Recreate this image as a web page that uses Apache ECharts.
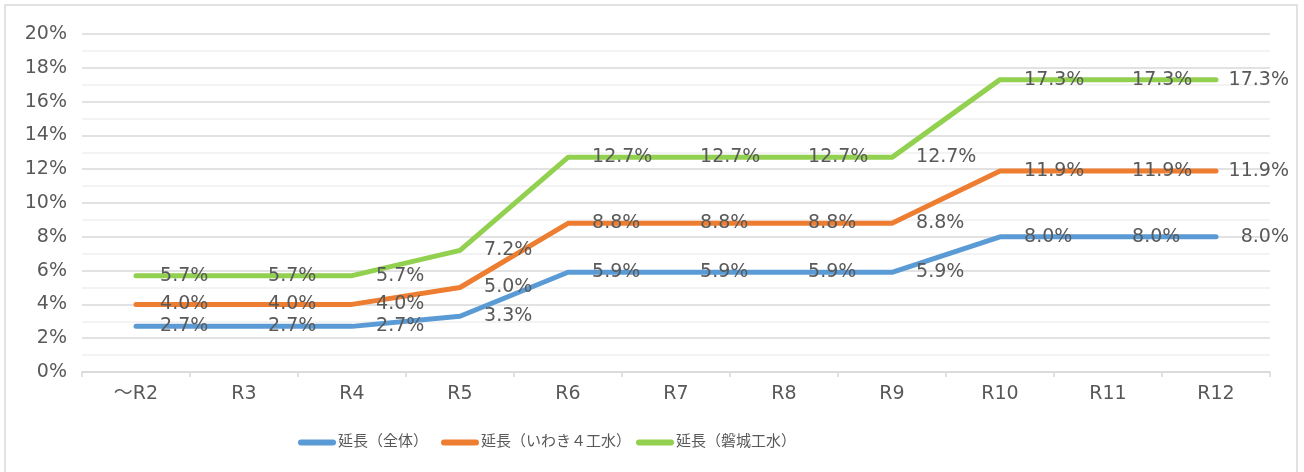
<!DOCTYPE html>
<html>
<head>
<meta charset="utf-8">
<script src="https://cdn.jsdelivr.net/npm/echarts@6/dist/echarts.min.js"></script>
<style>
html,body{margin:0;padding:0;background:#fff;}
#c{width:1304px;height:472px;}
</style>
</head>
<body>
<div id="c"></div>
<script>
const categories = ['～R2','R3','R4','R5','R6','R7','R8','R9','R10','R11','R12'];
const seriesNames = ['延長（全体）','延長（いわき４工水）','延長（磐城工水）'];
const totalValues = [2.7,2.7,2.7,3.3,5.9,5.9,5.9,5.9,8.0,8.0,8.0];
const iwakiValues = [4.0,4.0,4.0,5.0,8.8,8.8,8.8,8.8,11.9,11.9,11.9];
const banjoValues = [5.7,5.7,5.7,7.2,12.7,12.7,12.7,12.7,17.3,17.3,17.3];
const yTicks = [0,2,4,6,8,10,12,14,16,18,20];

const colors = ['#5B9BD5','#ED7D31','#92D050'];
const font = "'DejaVu Sans','Noto Sans CJK JP',sans-serif";
const textColor = '#595959';
const legendLefts = [298, 441, 636];

function mkSeries(name, values, color){
  const last = values.length - 1;
  return {
    name: name,
    type: 'line',
    data: values.map((v, i) => i === last
      ? {value: v, label: {position: [73, 0], align: 'right', verticalAlign: 'middle'}}
      : v),
    symbol: 'circle',
    symbolSize: 0.1,
    showSymbol: true,
    smooth: false,
    lineStyle: {color: color, width: 5, cap: 'round', join: 'round'},
    itemStyle: {color: color},
    label: {
      show: true,
      position: 'right',
      distance: 24,
      color: textColor,
      fontFamily: font,
      fontSize: 19,
      formatter: p => p.value.toFixed(1) + '%'
    },
    labelLayout: {hideOverlap: false},
    emphasis: {disabled: true},
    z: 2
  };
}

const legendIcon = 'path://M3,0 L35,0 A3,3 0 0 1 35,6 L3,6 A3,3 0 0 1 3,0 Z';
const legends = seriesNames.map((n, i) => ({
  left: legendLefts[i], top: 435, padding: 0,
  itemWidth: 38, itemHeight: 6, itemGap: 0,
  icon: legendIcon,
  textStyle: {color: textColor, fontFamily: font, fontSize: 15, padding: [0,0,0,-3]},
  data: [n]
}));

const chart = echarts.init(document.getElementById('c'), null, {renderer: 'canvas'});
chart.setOption({
  animation: false,
  backgroundColor: '#fff',
  graphic: [{
    type: 'rect',
    shape: {x: 5, y: 5, width: 1292, height: 470},
    style: {fill: 'none', stroke: '#d9d9d9', lineWidth: 1.5},
    silent: true, z: -1
  }],
  grid: {left: 82, right: 34, top: 34, bottom: 100, containLabel: false},
  legend: legends,
  xAxis: {
    type: 'category',
    data: categories,
    boundaryGap: true,
    axisLine: {lineStyle: {color: '#d9d9d9', width: 1.5}},
    axisTick: {show: true, length: 5, lineStyle: {color: '#d9d9d9', width: 1.5}},
    axisLabel: {color: textColor, fontFamily: font, fontSize: 19, margin: 13}
  },
  yAxis: {
    type: 'value',
    min: yTicks[0], max: yTicks[yTicks.length-1], interval: 2,
    axisLine: {show: false},
    axisTick: {show: false},
    axisLabel: {color: textColor, fontFamily: font, fontSize: 19, margin: 15, formatter: '{value}%'},
    splitLine: {lineStyle: {color: '#d9d9d9', width: 1.5}},
    minorTick: {show: false, splitNumber: 2},
    minorSplitLine: {show: true, lineStyle: {color: '#f0f0f0', width: 1.5}}
  },
  series: [
    mkSeries(seriesNames[0], totalValues, colors[0]),
    mkSeries(seriesNames[1], iwakiValues, colors[1]),
    mkSeries(seriesNames[2], banjoValues, colors[2])
  ]
});
</script>
</body>
</html>
